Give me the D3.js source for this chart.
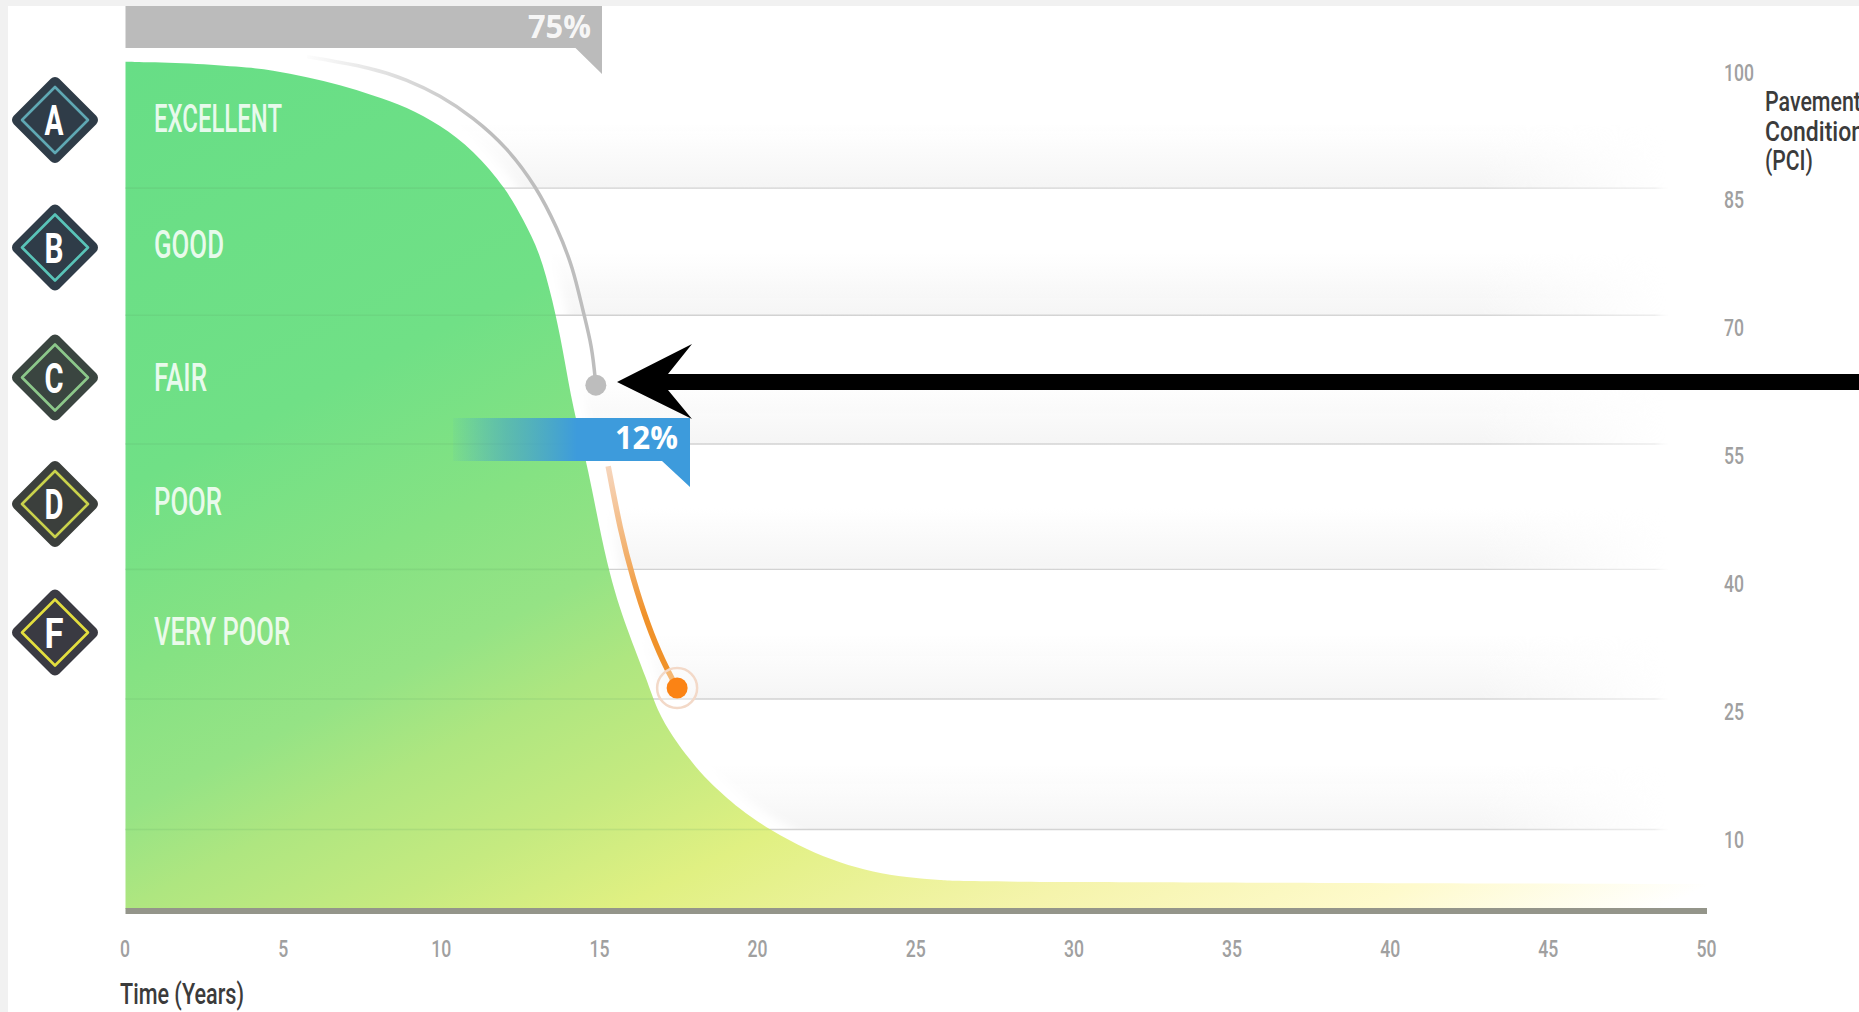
<!DOCTYPE html>
<html lang="en">
<head>
<meta charset="UTF-8">
<title>Pavement Condition over Time</title>
<script src="https://d3js.org/d3.v7.min.js"></script>
<style>
html, body { margin: 0; padding: 0; background: #f1f1f1; overflow: hidden; }
svg { display: block; }
text { font-family: Roboto, "Liberation Sans", sans-serif; }
</style>
</head>
<body>
<div class="chart"></div>
<script>
// values
var curveYears = [0, 0, 1.8, 3.62, 4.66, 5.74, 6.78, 7.82, 8.9, 9.94, 10.99, 12.06, 12.57, 13.1, 13.5, 13.83, 14.15, 14.6, 15.23, 15.86, 16.49, 16.8, 17.31, 17.85, 18.38, 19.43, 20.38, 21.55, 22.59, 23.63, 24.71, 25.75, 26.8, 50, 50];
var curvePci = [99.9, 99.9, 99.8, 99.33, 98.95, 98.1, 97.2, 96, 94.6, 92.5, 89.6, 84.9, 81.4, 77.6, 72, 66.2, 59.1, 52.9, 40.3, 33.3, 27.4, 23.9, 20.7, 18.05, 15.7, 12.2, 9.85, 7.5, 6, 4.9, 4.3, 3.95, 3.75, 3.5, 3.5];

var greyYears = [5.74, 7.82, 8.9, 9.94, 10.99, 12.06, 13, 13.64, 14.15, 14.46, 14.75, 14.87, 14.87];
var greyPci = [100.5, 99.2, 97.8, 96, 93.4, 89.9, 85.2, 80.5, 75.8, 70.7, 66.6, 62, 62];

var orangeYears = [15.26, 15.26, 15.64, 16.05, 16.5, 17, 17.44, 17.44];
var orangePci = [52.5, 52.5, 45, 39.2, 34, 29.5, 26.5, 26.5];

var xTicks = [0, 5, 10, 15, 20, 25, 30, 35, 40, 45, 50];
var yTicks = [100, 85, 70, 55, 40, 25, 10];
var gridPci = [85.1, 70.2, 55.1, 40.4, 25.2, 9.9];

var gradeLetters = ["A", "B", "C", "D", "F"];
var gradeNames = ["EXCELLENT", "GOOD", "FAIR", "POOR", "VERY POOR"];
var gradeFill = ["#2f3c48", "#2f3c48", "#3a4540", "#3b3f3c", "#3a3a42"];
var gradeRing = ["#5fa8b4", "#59c4b8", "#8cc88a", "#c9d24c", "#e3de3e"];
var gradeCentreY = [120, 247.5, 377.5, 504, 632.5];
var gradeBaseline = [132, 258, 391, 515, 645];
var gradeWidth = [128, 70, 53, 68, 136];

var width = 1859, height = 1012;
var x = d3.scaleLinear().domain([0, 50]).range([125.5, 1707]);
var y = d3.scaleLinear().domain([100, 0]).range([61, 914]);

var svg = d3.select(".chart").append("svg")
    .attr("width", width)
    .attr("height", height);

var defs = svg.append("defs");

function gradient(id, x1, y1, x2, y2, stops) {
  var g = defs.append("linearGradient")
      .attr("id", id)
      .attr("gradientUnits", "userSpaceOnUse")
      .attr("x1", x1).attr("y1", y1)
      .attr("x2", x2).attr("y2", y2);
  stops.forEach(function(s) {
    g.append("stop")
        .attr("offset", s[0])
        .attr("stop-color", s[1])
        .attr("stop-opacity", s[2] === undefined ? 1 : s[2]);
  });
}

// diagonal green -> yellow -> white wash of the area
gradient("areaFill", 49, 98, 696, 1392, [
  [0, "#67de86"], [0.264, "#70e086"], [0.381, "#85e283"], [0.464, "#95e385"],
  [0.524, "#aee680"], [0.602, "#c5ea80"], [0.677, "#e0f082"], [0.802, "#f5f4ac"],
  [0.907, "#fefacc"], [1, "#ffffff"]
]);
gradient("lineFade", 0, 0, width, 0, [
  [0, "#cecece"], [0.8, "#d6d6d6"], [0.89, "#ededed"], [0.9, "#ffffff", 0]
]);
gradient("blueFade", x(10.2), 0, x(17.6), 0, [
  [0, "#3d9bdc", 0], [0.25, "#46a3c8", 0.6], [0.55, "#3d9bdc"], [1, "#3d9bdc"]
]);
gradient("greyFade", x(5.5), 0, x(11.5), 0, [
  [0, "#bdbdbd", 0], [1, "#bdbdbd"]
]);
gradient("orangeFade", 0, y(53), 0, y(35), [
  [0, "#f4cdb0", 0.8], [1, "#f0922a"]
]);
var maskGrad = defs.append("linearGradient")
    .attr("id", "maskFade")
    .attr("gradientUnits", "userSpaceOnUse")
    .attr("x1", 1480).attr("y1", 0).attr("x2", 1667).attr("y2", 0);
maskGrad.append("stop").attr("offset", 0).attr("stop-color", "#fff");
maskGrad.append("stop").attr("offset", 1).attr("stop-color", "#000");
defs.append("mask")
    .attr("id", "bandMask")
    .attr("maskUnits", "userSpaceOnUse")
    .attr("x", 0).attr("y", 0).attr("width", width).attr("height", height)
  .append("rect")
    .attr("width", width).attr("height", height)
    .attr("fill", "url(#maskFade)");
gradient("bandFill", 0, 0, 0, 1, [[0, "#f5f5f5", 0], [1, "#f5f5f5", 1]]);
defs.select("#bandFill").attr("gradientUnits", "objectBoundingBox");
defs.append("filter").attr("id", "soft")
    .attr("x", "-10%").attr("y", "-10%").attr("width", "120%").attr("height", "120%")
  .append("feGaussianBlur").attr("stdDeviation", 4);

// white sheet, the grey page shows as a strip top and left
svg.append("rect")
    .attr("width", width).attr("height", height)
    .attr("fill", "#f1f1f1");
svg.append("rect")
    .attr("x", 8).attr("y", 6)
    .attr("width", width - 8).attr("height", height - 6)
    .attr("fill", "#fff");

// grey wash above each grid line
svg.append("g")
    .attr("mask", "url(#bandMask)")
  .selectAll("rect")
  .data(gridPci)
  .enter().append("rect")
    .attr("x", x(0))
    .attr("width", 1667 - x(0))
    .attr("y", d => y(d) - 64)
    .attr("height", 64)
    .attr("fill", "url(#bandFill)");

var curve = d3.range(curveYears.length).map(i => ({t: curveYears[i], v: curvePci[i]}));
var area = d3.area()
    .x(d => x(d.t))
    .y0(y(0.6))
    .y1(d => y(d.v))
    .curve(d3.curveBasis);
var topLine = d3.line()
    .x(d => x(d.t))
    .y(d => y(d.v))
    .curve(d3.curveBasis);

// white halo along the curve, stops short of the flat tail
svg.append("path")
    .datum(curve.filter(d => d.t < 24))
    .attr("d", topLine)
    .attr("fill", "none")
    .attr("stroke", "#fff")
    .attr("stroke-width", 24)
    .attr("filter", "url(#soft)");

// grid lines on white
svg.append("g")
  .selectAll("line")
  .data(gridPci)
  .enter().append("line")
    .attr("x1", x(0))
    .attr("x2", 1668)
    .attr("y1", d => y(d))
    .attr("y2", d => y(d) + 0.01)
    .attr("stroke", "url(#lineFade)")
    .attr("stroke-width", 1.4);

svg.append("path")
    .datum(curve)
    .attr("d", area)
    .attr("fill", "url(#areaFill)");

// the same lines show only faintly through the green
defs.append("clipPath").attr("id", "areaClip")
  .append("path")
    .datum(curve)
    .attr("d", area);
svg.append("g")
    .attr("clip-path", "url(#areaClip)")
  .selectAll("line")
  .data(gridPci)
  .enter().append("line")
    .attr("x1", x(0))
    .attr("x2", x(50))
    .attr("y1", d => y(d))
    .attr("y2", d => y(d))
    .attr("stroke", "#5f9f62")
    .attr("stroke-opacity", 0.16)
    .attr("stroke-width", 1.6);

// base line
svg.append("rect")
    .attr("x", x(0))
    .attr("y", 908)
    .attr("width", x(50) - x(0))
    .attr("height", 6)
    .attr("fill", "#94958a");

// grey and orange tracks
var grey = d3.range(greyYears.length).map(i => ({t: greyYears[i], v: greyPci[i]}));
var orange = d3.range(orangeYears.length).map(i => ({t: orangeYears[i], v: orangePci[i]}));
var track = d3.line().x(d => x(d.t)).y(d => y(d.v)).curve(d3.curveBasis);

svg.append("path")
    .datum(grey)
    .attr("d", track)
    .attr("fill", "none")
    .attr("stroke", "url(#greyFade)")
    .attr("stroke-width", 3.5);
svg.append("circle")
    .attr("cx", x(greyYears[greyYears.length - 1]))
    .attr("cy", y(greyPci[greyPci.length - 1]))
    .attr("r", 10.5)
    .attr("fill", "#bdbdbd");

svg.append("path")
    .datum(orange)
    .attr("d", track)
    .attr("fill", "none")
    .attr("stroke", "url(#orangeFade)")
    .attr("stroke-width", 5.5);
svg.append("circle")
    .attr("cx", x(orangeYears[orangeYears.length - 1]))
    .attr("cy", y(orangePci[orangePci.length - 1]))
    .attr("r", 20)
    .attr("fill", "#fff")
    .attr("fill-opacity", 0.35)
    .attr("stroke", "#f3d9c8")
    .attr("stroke-width", 2.5);
svg.append("circle")
    .attr("cx", x(orangeYears[orangeYears.length - 1]))
    .attr("cy", y(orangePci[orangePci.length - 1]))
    .attr("r", 10.5)
    .attr("fill", "#fb8314");

// 75% flag
svg.append("path")
    .attr("d", "M125.5,6H602V74L575.5,48H125.5Z")
    .attr("fill", "#bbbbbb");
svg.append("text")
    .attr("x", 591).attr("y", 38)
    .attr("text-anchor", "end")
    .attr("fill", "#fff")
    .attr("fill-opacity", 0.9)
    .attr("font-weight", 700)
    .attr("font-size", 32)
    .attr("textLength", 63)
    .attr("lengthAdjust", "spacingAndGlyphs")
    .style("font-family", "'Open Sans'")
    .text("75%");

// 12% flag
svg.append("path")
    .attr("d", "M453,418H690V487L662,461H453Z")
    .attr("fill", "url(#blueFade)");
svg.append("text")
    .attr("x", 678).attr("y", 449)
    .attr("text-anchor", "end")
    .attr("fill", "#fff")
    .attr("font-weight", 700)
    .attr("font-size", 32)
    .attr("textLength", 63)
    .attr("lengthAdjust", "spacingAndGlyphs")
    .style("font-family", "'Open Sans'")
    .text("12%");

// black arrow
svg.append("path")
    .attr("d", "M617,382L692,344L668,374H1859V390H668L692,419Z")
    .attr("fill", "#000");

// grade diamonds
function diamond(cx, cy, r) {
  return "M" + cx + "," + (cy - r) + "L" + (cx + r) + "," + cy +
         "L" + cx + "," + (cy + r) + "L" + (cx - r) + "," + cy + "Z";
}
var badge = svg.append("g")
  .selectAll("g")
  .data(gradeLetters)
  .enter().append("g");
badge.append("path")
    .attr("d", (d, i) => diamond(55, gradeCentreY[i], 37))
    .attr("fill", (d, i) => gradeFill[i])
    .attr("stroke", (d, i) => gradeFill[i])
    .attr("stroke-width", 12)
    .attr("stroke-linejoin", "round");
badge.append("path")
    .attr("d", (d, i) => diamond(55, gradeCentreY[i], 33))
    .attr("fill", "none")
    .attr("stroke", (d, i) => gradeRing[i])
    .attr("stroke-width", 2.6)
    .attr("stroke-linejoin", "round");
badge.append("text")
    .attr("x", 54)
    .attr("y", (d, i) => gradeCentreY[i] + 15)
    .attr("text-anchor", "middle")
    .attr("fill", "#fff")
    .attr("font-weight", 700)
    .attr("font-size", 42)
    .attr("textLength", 19)
    .attr("lengthAdjust", "spacingAndGlyphs")
    .text(d => d);

// grade names
svg.append("g")
  .selectAll("text")
  .data(gradeNames)
  .enter().append("text")
    .attr("x", 154)
    .attr("y", (d, i) => gradeBaseline[i])
    .attr("fill", "#fff")
    .attr("fill-opacity", 0.85)
    .attr("font-weight", 500)
    .attr("font-size", 39)
    .attr("textLength", (d, i) => gradeWidth[i])
    .attr("lengthAdjust", "spacingAndGlyphs")
    .text(d => d);

// axes, labels only
var xAxis = svg.append("g")
    .attr("transform", "translate(-1,957)")
    .call(d3.axisBottom(x).tickValues(xTicks).tickSize(0));
xAxis.select(".domain").remove();
xAxis.selectAll("text")
    .attr("y", 0)
    .attr("dy", 0)
    .attr("fill", "#a0a0a0")
    .style("font-family", "Roboto")
    .style("font-weight", 500)
    .style("font-size", "24px")
    .attr("textLength", d => String(d).length * 10)
    .attr("lengthAdjust", "spacingAndGlyphs");

var yAxis = svg.append("g")
    .attr("transform", "translate(1724,0)")
    .call(d3.axisRight(y).tickValues(yTicks).tickSize(0));
yAxis.select(".domain").remove();
yAxis.selectAll("text")
    .attr("x", 0)
    .attr("dy", 19)
    .attr("fill", "#a0a0a0")
    .style("font-family", "Roboto")
    .style("font-weight", 500)
    .style("font-size", "24px")
    .attr("textLength", d => String(d).length * 10)
    .attr("lengthAdjust", "spacingAndGlyphs");

// axis titles
svg.append("text")
    .attr("x", 120).attr("y", 1004)
    .attr("fill", "#3b3b3b")
    .attr("font-weight", 500)
    .attr("font-size", 29)
    .attr("textLength", 124)
    .attr("lengthAdjust", "spacingAndGlyphs")
    .text("Time (Years)");

var pciLines = ["Pavement", "Condition", "(PCI)"];
var pciWidths = [96, 99, 48];
var pciBaselines = [111, 141, 170];
svg.append("g")
  .selectAll("text")
  .data(pciLines)
  .enter().append("text")
    .attr("x", 1765)
    .attr("y", (d, i) => pciBaselines[i])
    .attr("fill", "#3b3b3b")
    .attr("font-weight", 500)
    .attr("font-size", 28)
    .attr("textLength", (d, i) => pciWidths[i])
    .attr("lengthAdjust", "spacingAndGlyphs")
    .text(d => d);
</script>
</body>
</html>
